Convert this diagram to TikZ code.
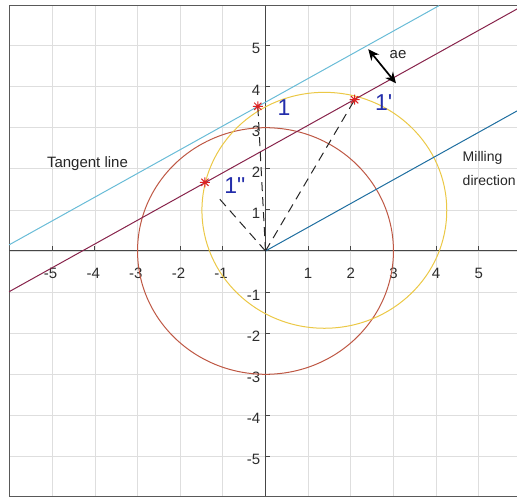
\documentclass[tikz,border=0pt]{standalone}
\usepackage{fontspec}
\setmainfont{Liberation Sans}
\usetikzlibrary{arrows.meta,calc}
\definecolor{gridc}{RGB}{222,222,222}
\definecolor{axisc}{RGB}{70,70,70}
\definecolor{tickc}{RGB}{45,45,45}
\definecolor{cyanl}{RGB}{105,188,215}
\definecolor{bluel}{RGB}{30,110,160}
\definecolor{purpl}{RGB}{135,35,75}
\definecolor{redc}{RGB}{190,88,68}
\definecolor{yelc}{RGB}{235,200,70}
\definecolor{starc}{RGB}{220,35,35}
\definecolor{labblue}{RGB}{35,45,170}
\tikzset{
  gridline/.style={draw=gridc, line width=0.7pt},
  axisline/.style={draw=axisc, line width=1pt},
  framebox/.style={draw=axisc!90, line width=1.2pt},
  ticklab/.style={text=tickc, font=\fontsize{15}{18}\selectfont, inner sep=0pt},
  pointlab/.style={text=labblue, font=\fontsize{23}{26}\selectfont, inner sep=0pt},
  notelab/.style={text=black!85, font=\fontsize{15}{18}\selectfont, inner sep=0pt},
  sidelab/.style={text=black!85, font=\fontsize{14}{17}\selectfont, inner sep=0pt, anchor=west},
  dashconn/.style={draw=black!85, line width=1pt, dash pattern=on 9pt off 6pt},
  starmk/.style={draw=starc, line width=1pt},
  aearrow/.style={draw=black, line width=1.7pt, {Stealth[length=11pt,width=10pt]}-{Stealth[length=11pt,width=10pt]}}
}
\begin{document}
\begin{tikzpicture}[x=42.65pt, y=41.1pt]
\useasboundingbox (-6.225,-5.985) rectangle (5.897,6.107);
% grid
\foreach \i in {-5,...,6} \draw[gridline] (\i,-5.97) -- (\i,5.97);
\foreach \j in {-5,...,5} \draw[gridline] (-6.01,\j) -- (6.3,\j);
% frame
\draw[framebox] (-6.01,-5.97) rectangle (6.3,5.97);
% axes
\draw[axisline] (-6.01,0) -- (6.3,0);
\draw[axisline] (0,-5.97) -- (0,5.97);
\foreach \i in {-5,...,6} \draw[axisline] (\i,0) -- (\i,0.115);
\foreach \j in {-5,...,5} \draw[axisline] (0,\j) -- (0.11,\j);
% tick labels
\foreach \i in {-5,-4,-3,-2,-1} \node[ticklab] (xl\i) at (\i-0.04,-0.54) {-\the\numexpr-\i\relax};
\foreach \i in {1,2,3,4,5} \node[ticklab] (xl\i) at (\i,-0.54) {\i};
\foreach \j in {1,2,3,4,5} \node[ticklab, anchor=east] (yl\j) at (-0.12,\j-0.08) {\j};
\foreach \j in {-5,-4,-3,-2,-1} \node[ticklab, anchor=east] (yl\j) at (-0.12,\j-0.08) {-\the\numexpr-\j\relax};
% key points
\coordinate (O) at (0,0);
\coordinate (s1) at (-0.18,3.52);
\coordinate (s1p) at (2.09,3.68);
\coordinate (s1pp) at (-1.42,1.67);
% circles
\draw[redc, line width=1pt] (O) circle[radius=3];
\coordinate (yc) at (1.38,0.99);
\draw[yelc, line width=1pt] (yc) circle[radius=2.87];
% parallel lines (30 degrees)
\coordinate (cyA) at (-6.01,0.15);
\coordinate (cyB) at (4.07,5.97);
\draw[cyanl, line width=1pt] (cyA) -- (cyB);
\coordinate (puA) at (-6.01,-0.99);
\coordinate (puB) at (6.04,5.97);
\draw[purpl, line width=1pt] (puA) -- (puB);
\coordinate (blB) at (6.3,3.64);
\draw[bluel, line width=1pt] (O) -- (blB);
% dashed connectors
\draw[dashconn] (O) -- (s1);
\draw[dashconn] (O) -- (s1p);
\draw[dashconn] (O) -- ($(O)!0.81!(s1pp)$);
% star markers
\foreach \p in {s1,s1p,s1pp}
  \draw[starmk] (\p) +(-5pt,0) -- +(5pt,0) +(0,-5pt) -- +(0,5pt)
     +(-3.6pt,-3.6pt) -- +(3.6pt,3.6pt) +(-3.6pt,3.6pt) -- +(3.6pt,-3.6pt);
% labels
\node[pointlab] (l1) at (0.434,3.50) {1};
\node[pointlab] (l1p) at (2.77,3.61) {1\textquotesingle};
\node[pointlab] (l1pp) at (-0.72,1.60) {1\textquotedbl};
\node[notelab] (tang) at (-4.174,2.134) {Tangent line};
\node[sidelab] (mill) at (4.62,2.275) {Milling};
\node[sidelab] (dir) at (4.62,1.727) {direction};
% ae arrow
\coordinate (aeA) at (2.41,4.91);
\coordinate (aeB) at (3.06,4.08);
\draw[aearrow] (aeA) -- (aeB);
\node[notelab] (ae) at (3.107,4.769) {ae};
\end{tikzpicture}
\end{document}
